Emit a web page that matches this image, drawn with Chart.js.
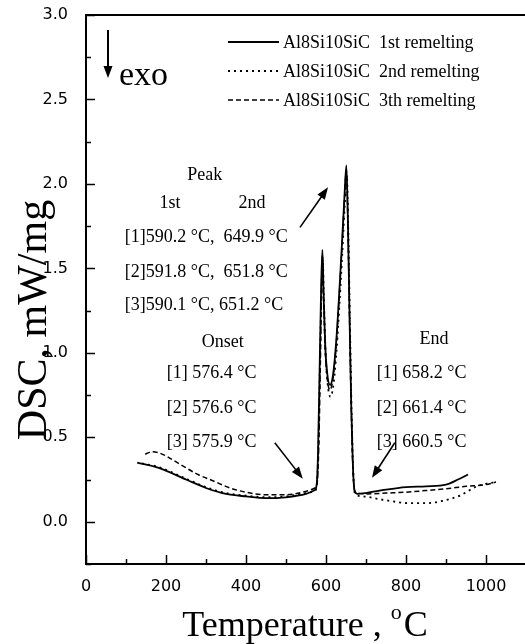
<!DOCTYPE html>
<html>
<head>
<meta charset="utf-8">
<script src="https://cdn.jsdelivr.net/npm/chart.js@4"></script>
<style>
  html, body { margin: 0; padding: 0; background: #fff; overflow: hidden; }
  #wrap { width: 530px; height: 644px; }
</style>
</head>
<body>
<div id="wrap"><canvas id="dsc"></canvas></div>
<script>
// DSC curves (temperature in °C, DSC in mW/mg)
const tSolid = [128, 180, 250, 300, 350, 400, 450, 500, 550, 570, 576, 580, 584, 588, 591, 594, 598, 603, 610, 617, 625, 633, 640, 646, 651, 655, 659, 663, 667, 671, 678, 700, 750, 800, 850, 900, 930, 955];
const dscSolid = [0.35, 0.32, 0.25, 0.2, 0.165, 0.15, 0.14, 0.145, 0.165, 0.185, 0.21, 0.4, 0.9, 1.4, 1.61, 1.35, 1.05, 0.88, 0.81, 0.86, 1.05, 1.35, 1.65, 1.92, 2.11, 1.75, 1.2, 0.7, 0.35, 0.19, 0.165, 0.17, 0.19, 0.205, 0.21, 0.22, 0.25, 0.28];

const tDotted = [140, 180, 250, 300, 350, 400, 450, 500, 550, 570, 577, 581, 585, 589, 592, 595, 599, 604, 611, 618, 626, 634, 641, 647, 652, 656, 660, 664, 668, 672, 692, 743, 810, 852, 893, 935, 977, 1000, 1025];
const dscDotted = [0.345, 0.325, 0.255, 0.205, 0.17, 0.155, 0.145, 0.15, 0.17, 0.18, 0.21, 0.45, 0.95, 1.4, 1.55, 1.3, 1.0, 0.82, 0.74, 0.8, 1.0, 1.3, 1.6, 1.88, 2.05, 1.7, 1.15, 0.65, 0.3, 0.17, 0.15, 0.13, 0.11, 0.11, 0.125, 0.155, 0.21, 0.225, 0.235];

const tDashed = [148, 165, 180, 200, 235, 280, 320, 360, 400, 450, 500, 550, 572, 578, 582, 586, 589, 591, 594, 598, 603, 610, 617, 625, 633, 640, 646, 651, 655, 659, 663, 667, 672, 700, 750, 800, 850, 900, 950, 1000, 1025];
const dscDashed = [0.40, 0.415, 0.41, 0.39, 0.34, 0.28, 0.24, 0.2, 0.175, 0.16, 0.16, 0.18, 0.2, 0.23, 0.45, 0.95, 1.4, 1.58, 1.32, 1.02, 0.85, 0.78, 0.84, 1.03, 1.33, 1.63, 1.9, 2.08, 1.72, 1.18, 0.68, 0.33, 0.18, 0.165, 0.17, 0.175, 0.185, 0.195, 0.21, 0.22, 0.235];

const seriesLabels = ['Al8Si10SiC  1st remelting', 'Al8Si10SiC  2nd remelting', 'Al8Si10SiC  3th remelting'];

// axis ranges and tick labels
const xMin = 0, xMax = 1100, xMajor = 200, xMinor = 100;
const yMin = -0.25, yMax = 3.0, yMajor = 0.5, yMinor = 0.25;

// text notes on the plot, placed in data units
const notes = [
    { text: 'Peak', x: 297, y: 2.05, align: 'center' },
    { text: '1st', x: 210, y: 1.885, align: 'center' },
    { text: '2nd', x: 415, y: 1.885, align: 'center' },
    { text: '[1]590.2 °C,  649.9 °C', x: 97, y: 1.683, align: 'left' },
    { text: '[2]591.8 °C,  651.8 °C', x: 97, y: 1.476, align: 'left' },
    { text: '[3]590.1 °C, 651.2 °C', x: 97, y: 1.28, align: 'left' },
    { text: 'Onset', x: 342, y: 1.061, align: 'center' },
    { text: '[1] 576.4 °C', x: 202, y: 0.877, align: 'left' },
    { text: '[2] 576.6 °C', x: 202, y: 0.67, align: 'left' },
    { text: '[3] 575.9 °C', x: 202, y: 0.468, align: 'left' },
    { text: 'End', x: 870, y: 1.079, align: 'center' },
    { text: '[1] 658.2 °C', x: 727, y: 0.877, align: 'left' },
    { text: '[2] 661.4 °C', x: 727, y: 0.67, align: 'left' },
    { text: '[3] 660.5 °C', x: 727, y: 0.468, align: 'left' }
];

// arrows pointing at the events, from -> to in data units
const arrows = [
    [535, 1.743, 605, 1.98],
    [472, 0.468, 542, 0.255],
    [772, 0.468, 715, 0.26]
];

function toPoints(xs, ys) {
    return xs.map((x, i) => ({ x: x, y: ys[i] }));
}

function drawArrow(ctx, x1, y1, x2, y2) {
    const ang = Math.atan2(y2 - y1, x2 - x1);
    const head = 12, half = 4.5;
    ctx.beginPath();
    ctx.moveTo(x1, y1);
    ctx.lineTo(x2 - Math.cos(ang) * head * 0.8, y2 - Math.sin(ang) * head * 0.8);
    ctx.stroke();
    ctx.beginPath();
    ctx.moveTo(x2, y2);
    ctx.lineTo(x2 - Math.cos(ang) * head + Math.sin(ang) * half, y2 - Math.sin(ang) * head - Math.cos(ang) * half);
    ctx.lineTo(x2 - Math.cos(ang) * head - Math.sin(ang) * half, y2 - Math.sin(ang) * head + Math.cos(ang) * half);
    ctx.closePath();
    ctx.fill();
}

// frame, inward ticks, titles, notes and legend
const decorations = {
    id: 'decorations',
    afterDraw(chart) {
        const ctx = chart.ctx;
        const area = chart.chartArea;
        const xs = chart.scales.x, ys = chart.scales.y;
        ctx.save();
        ctx.strokeStyle = '#000';
        ctx.fillStyle = '#000';

        // frame
        ctx.lineWidth = 2;
        ctx.strokeRect(area.left, area.top, area.right - area.left, area.bottom - area.top);

        // inward ticks
        ctx.lineWidth = 1.5;
        for (let v = xMin; v <= xMax; v += xMinor) {
            const px = Math.round(xs.getPixelForValue(v)) + 0.5;
            const len = (v % xMajor === 0) ? 9 : 5;
            ctx.beginPath();
            ctx.moveTo(px, area.bottom);
            ctx.lineTo(px, area.bottom - len);
            ctx.stroke();
        }
        for (let v = yMin; v <= yMax + 1e-9; v += yMinor) {
            const py = Math.round(ys.getPixelForValue(v)) + 0.5;
            const major = Math.abs(v / yMajor - Math.round(v / yMajor)) < 1e-6;
            ctx.beginPath();
            ctx.moveTo(area.left, py);
            ctx.lineTo(area.left + (major ? 9 : 5), py);
            ctx.stroke();
        }

        // axis titles
        ctx.textBaseline = 'alphabetic';
        ctx.font = '36px "Liberation Serif"';
        const part1 = 'Temperature , ';
        const w1 = ctx.measureText(part1).width;
        ctx.font = '22px "Liberation Serif"';
        const wo = ctx.measureText('o').width;
        ctx.font = '36px "Liberation Serif"';
        const wc = ctx.measureText('C').width;
        let tx = 305 - (w1 + wo + 2 + wc) / 2;
        const tBase = 636;
        ctx.textAlign = 'left';
        ctx.fillText(part1, tx, tBase);
        ctx.font = '22px "Liberation Serif"';
        ctx.fillText('o', tx + w1, tBase - 17);
        ctx.font = '36px "Liberation Serif"';
        ctx.fillText('C', tx + w1 + wo + 2, tBase);

        ctx.save();
        ctx.translate(46, 320);
        ctx.rotate(-Math.PI / 2);
        ctx.textAlign = 'center';
        ctx.font = '42px "Liberation Serif"';
        ctx.fillText('DSC, mW/mg', 0, 0);
        ctx.restore();

        // exo arrow
        ctx.lineWidth = 2;
        drawArrow(ctx, 108, 30, 108, 78);
        ctx.font = '34px "Liberation Serif"';
        ctx.textAlign = 'left';
        ctx.fillText('exo', 119, 85);

        // notes
        ctx.font = '18px "Liberation Serif"';
        ctx.textBaseline = 'middle';
        notes.forEach(n => {
            ctx.textAlign = n.align;
            ctx.fillText(n.text, xs.getPixelForValue(n.x), ys.getPixelForValue(n.y));
        });

        // arrows
        ctx.lineWidth = 1.6;
        arrows.forEach(a => {
            drawArrow(ctx, xs.getPixelForValue(a[0]), ys.getPixelForValue(a[1]),
                xs.getPixelForValue(a[2]), ys.getPixelForValue(a[3]));
        });

        // legend
        const rowY = [42, 71, 100];
        chart.data.datasets.forEach((ds, i) => {
            ctx.save();
            ctx.lineWidth = ds.borderWidth;
            ctx.setLineDash(ds.borderDash || []);
            ctx.beginPath();
            ctx.moveTo(228, rowY[i]);
            ctx.lineTo(279, rowY[i]);
            ctx.stroke();
            ctx.restore();
            ctx.textAlign = 'left';
            ctx.fillText(ds.label, 283, rowY[i] + 1);
        });

        ctx.restore();
    }
};

const tickFont = { family: '"DejaVu Sans"', size: 16 };

new Chart(document.getElementById('dsc'), {
    type: 'line',
    data: {
        datasets: [
            {
                label: seriesLabels[0],
                data: toPoints(tSolid, dscSolid),
                borderColor: '#000',
                borderWidth: 1.8,
                borderDash: []
            },
            {
                label: seriesLabels[1],
                data: toPoints(tDotted, dscDotted),
                borderColor: '#000',
                borderWidth: 1.8,
                borderDash: [2, 4]
            },
            {
                label: seriesLabels[2],
                data: toPoints(tDashed, dscDashed),
                borderColor: '#000',
                borderWidth: 1.5,
                borderDash: [5, 3]
            }
        ]
    },
    options: {
        responsive: true,
        maintainAspectRatio: false,
        animation: false,
        devicePixelRatio: 1,
        layout: { padding: { left: 0, top: 15, right: 4, bottom: 0 } },
        elements: {
            point: { radius: 0 },
            line: { cubicInterpolationMode: 'monotone', fill: false }
        },
        plugins: {
            legend: { display: false },
            tooltip: { enabled: false }
        },
        scales: {
            x: {
                type: 'linear',
                min: xMin,
                max: xMax,
                grid: { display: false },
                border: { display: false },
                ticks: {
                    stepSize: xMinor,
                    color: '#000',
                    font: tickFont,
                    padding: 5,
                    maxRotation: 0,
                    autoSkip: false,
                    callback: v => (v % xMajor === 0 && v <= 1000) ? String(v) : ''
                },
                afterFit: s => { s.height = 80; s.paddingLeft = 0; s.paddingRight = 0; }
            },
            y: {
                type: 'linear',
                min: yMin,
                max: yMax,
                grid: { display: false },
                border: { display: false },
                ticks: {
                    stepSize: yMinor,
                    color: '#000',
                    font: tickFont,
                    padding: 10,
                    autoSkip: false,
                    callback: v => (Math.abs(v / yMajor - Math.round(v / yMajor)) < 1e-6 && v >= 0) ? v.toFixed(1) : ''
                },
                afterFit: s => { s.width = 86; s.paddingTop = 0; s.paddingBottom = 0; }
            }
        }
    },
    plugins: [decorations]
});
</script>
</body>
</html>
